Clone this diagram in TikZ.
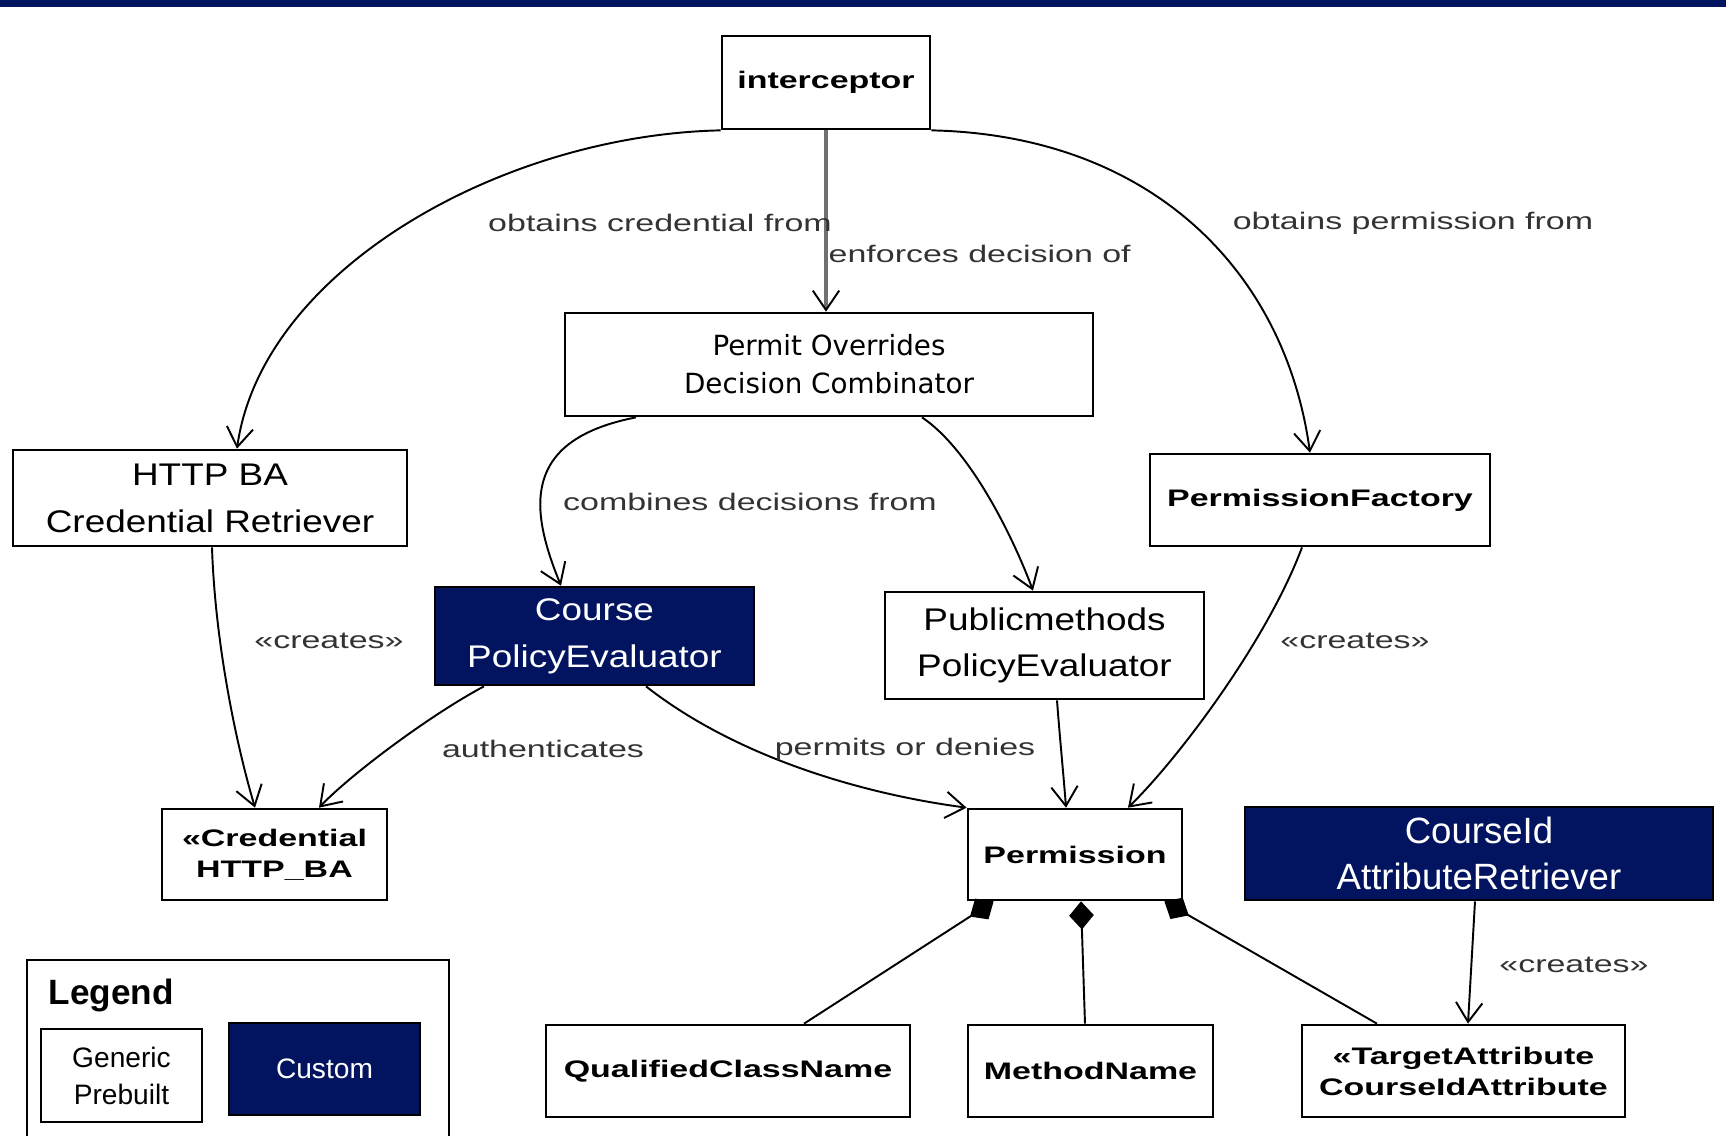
\documentclass[tikz,border=0pt]{standalone}
\usepackage{fontspec}
\setmainfont{Liberation Sans}
\newfontfamily\widefont[FakeStretch=1.42]{Liberation Sans}
\newfontfamily\boxfont[FakeStretch=1.18]{Liberation Sans}
\newfontfamily\permfont{DejaVu Sans}
\usetikzlibrary{arrows.meta,calc}
\definecolor{Navy}{HTML}{021460}
\definecolor{Ink}{HTML}{333333}
\definecolor{Steel}{HTML}{707070}
\tikzset{
  cls/.style={draw, line width=0.75pt, fill=white, align=center, inner sep=0pt},
  clsname/.style={cls, font=\widefont\bfseries\fontsize{6.8}{8.8}\selectfont},
  prebuilt/.style={cls, font=\boxfont\fontsize{8.9}{13.3}\selectfont},
  custombox/.style={prebuilt, fill=Navy, text=white, draw=black},
  assoc/.style={->, line width=0.55pt},
  part/.style={{Diamond[length=8pt,width=7pt]}-, line width=0.55pt},
  lbl/.style={font=\widefont\fontsize{6.8}{8}\selectfont, text=Ink, inner sep=0pt},
}

\begin{document}
\begin{tikzpicture}[x=0.01cm, y=-0.01cm, >={Straight Barb[length=5.5pt,width=7.5pt]}]
    \useasboundingbox (0,0) rectangle (1726,1135);
    \fill[Navy] (0,0) rectangle (1726,7);

    \node[clsname, minimum width=2.08cm, minimum height=0.93cm] (interceptor) at (826,82.5) {interceptor};
    \node[cls, font=\permfont\fontsize{7.9}{10.8}\selectfont, minimum width=5.28cm, minimum height=1.03cm] (permit) at (829,364.5) {Permit Overrides\\Decision Combinator};
    \node[prebuilt, minimum width=3.94cm, minimum height=0.96cm] (httpba) at (210,498) {HTTP BA\\Credential Retriever};
    \node[clsname, minimum width=3.40cm, minimum height=0.92cm] (pfactory) at (1320,500) {PermissionFactory};
    \node[custombox, minimum width=3.19cm, minimum height=0.98cm] (coursepe) at (594.5,636) {Course\\PolicyEvaluator};
    \node[prebuilt, minimum width=3.19cm, minimum height=1.07cm] (publicpe) at (1044.5,645.5) {Publicmethods\\PolicyEvaluator};
    \node[clsname, minimum width=2.25cm, minimum height=0.91cm] (cred) at (274.5,854.5) {«Credential\\HTTP\_BA};
    \node[clsname, minimum width=2.14cm, minimum height=0.91cm] (perm) at (1075,854.5) {Permission};
    \node[custombox, font=\fontsize{10.4}{13.3}\selectfont, minimum width=4.68cm, minimum height=0.93cm] (courseid) at (1479,853.5) {CourseId\\AttributeRetriever};
    \node[clsname, minimum width=3.64cm, minimum height=0.92cm] (qcn) at (728,1071) {QualifiedClassName};
    \node[clsname, minimum width=2.45cm, minimum height=0.92cm] (mname) at (1090.5,1071) {MethodName};
    \node[clsname, minimum width=3.23cm, minimum height=0.92cm] (target) at (1463.5,1071) {«TargetAttribute\\CourseIdAttribute};

    \node[draw, line width=0.6pt, minimum width=4.22cm, minimum height=2.0cm, anchor=north west] (legend) at (26,959) {};
    \node[anchor=west, inner sep=0pt, font=\bfseries\fontsize{10}{12}\selectfont] (legendtitle) at (48,995) {Legend};
    \node[draw, line width=0.6pt, fill=white, align=center, font=\fontsize{8}{10.5}\selectfont, minimum width=1.61cm, minimum height=0.93cm] (generic) at (121.5,1075.5) {Generic\\Prebuilt};
    \node[draw=black, line width=0.6pt, fill=Navy, text=white, font=\fontsize{8}{10.5}\selectfont, minimum width=1.91cm, minimum height=0.92cm] (custom) at (324.5,1069) {Custom};

    \draw[assoc] (interceptor.south west) .. controls (502,135) and (262,270) .. ($(httpba.north)+(27,0)$);
    \draw[line width=0.9pt, draw=Steel, -{Straight Barb[length=5.5pt,width=7.5pt,color=black,line width=0.55pt]}] (interceptor.south) -- (interceptor.south |- permit.north);
    \draw[assoc] (interceptor.south east) .. controls (1150,135) and (1285,270) .. ($(pfactory.north)+(-10,0)$);
    \draw[assoc] ($(permit.south)+(-193,0)$) .. controls (520,440) and (530,510) .. ($(coursepe.north)+(-33.5,0)$);
    \draw[assoc] ($(permit.south)+(93,0)$) .. controls (972,451) and (1015,542) .. ($(publicpe.north)+(-11.5,0)$);
    \draw[assoc] ($(httpba.south)+(2,0)$) .. controls (215,640) and (235,740) .. ($(cred.north)+(-19.5,0)$);
    \draw[assoc] ($(coursepe.south)+(-110.5,0)$) .. controls (430,715) and (350,775) .. ($(cred.north)+(44.5,0)$);
    \draw[assoc] ($(coursepe.south)+(51.5,0)$) .. controls (740,760) and (870,795) .. (perm.north west);
    \draw[assoc] ($(publicpe.south)+(12.5,0)$) .. controls (1060,740) and (1064,780) .. ($(perm.north)+(-9,0)$);
    \draw[assoc] ($(pfactory.south)+(-18,0)$) .. controls (1267,641) and (1178,759) .. ($(perm.north)+(53,0)$);
    \draw[assoc] ($(courseid.south)+(-4,0)$) -- ($(target.north)+(4.5,0)$);

    \draw[part] ($(perm.south west)+(27,0)$) -- ($(qcn.north)+(76,0)$);
    \draw[part] ($(perm.south)+(6,0)$) -- ($(mname.north)+(-5.5,0)$);
    \draw[part] ($(perm.south east)+(-19,0)$) -- ($(target.north)+(-86.5,0)$);

    \node[lbl] (lcred) at (660,223) {obtains credential from};
    \node[lbl, anchor=west] (lenforce) at (828,254) {enforces decision of};
    \node[lbl] (lpermission) at (1413,223) {obtains permission from};
    \node[lbl] (lcombine) at (750,502) {combines decisions from};
    \node[lbl] (lcreatesa) at (329,641) {«creates»};
    \node[lbl] (lauth) at (543,749) {authenticates};
    \node[lbl] (lpermits) at (905,749) {permits or denies};
    \node[lbl] (lcreatesb) at (1355,641) {«creates»};
    \node[lbl] (lcreatesc) at (1574,965) {«creates»};
\end{tikzpicture}
\end{document}
